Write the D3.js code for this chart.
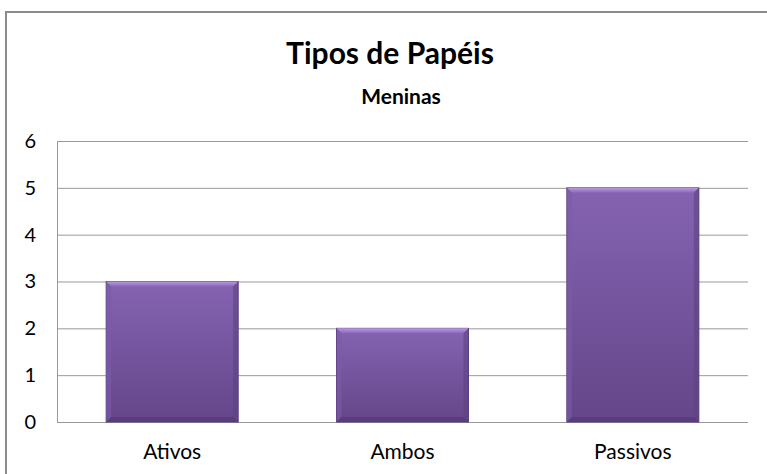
<!DOCTYPE html>
<html>
<head>
<meta charset="utf-8">
<title>Tipos de Papéis</title>
<script src="https://cdn.jsdelivr.net/npm/d3@7"></script>
<style>
  body { margin: 0; background: #fff; }
  text { font-family: Lato, "Open Sans", sans-serif; fill: #000; }
</style>
</head>
<body>
<svg width="767" height="474" id="mainsvg"></svg>
<script>
const categories = ['Ativos', 'Ambos', 'Passivos'];
const values = [3, 2, 5];
const yTicks = [0, 1, 2, 3, 4, 5, 6];

const svg = d3.select('#mainsvg');
const width = +svg.attr('width');
const height = +svg.attr('height');
const margin = {top: 141, right: 19, bottom: 52, left: 57};
const innerWidth = width - margin.left - margin.right;
const innerHeight = height - margin.top - margin.bottom;

// outer chart border
svg.append('rect')
  .attr('x', 6).attr('y', 12)
  .attr('width', width).attr('height', height)
  .attr('fill', 'none').attr('stroke', '#8c8c8c').attr('stroke-width', 2);

const defs = svg.append('defs');
const grad = defs.append('linearGradient').attr('id', 'barGrad')
  .attr('x1', 0).attr('y1', 0).attr('x2', 0).attr('y2', 1);
grad.append('stop').attr('offset', '0%').attr('stop-color', '#8563b2');
grad.append('stop').attr('offset', '100%').attr('stop-color', '#644689');
const topGrad = defs.append('linearGradient').attr('id', 'topGrad')
  .attr('x1', 0).attr('y1', 0).attr('x2', 0).attr('y2', 1);
topGrad.append('stop').attr('offset', '0%').attr('stop-color', '#b89ae0');
topGrad.append('stop').attr('offset', '100%').attr('stop-color', '#8a68b6');

const xScale = d3.scaleBand()
  .domain(categories)
  .range([0, innerWidth])
  .paddingInner(0.427)
  .paddingOuter(0.2135);

const yScale = d3.scaleLinear()
  .domain([0, 6])
  .range([innerHeight, 0]);

const g = svg.append('g')
  .attr('transform', `translate(${margin.left},${margin.top})`);

// gridlines
g.append('g').selectAll('line').data(yTicks).join('line')
  .attr('x1', 0).attr('x2', innerWidth)
  .attr('y1', d => yScale(d) + 0.5).attr('y2', d => yScale(d) + 0.5)
  .attr('stroke', '#999').attr('stroke-width', 1);

g.append('line')
  .attr('x1', 0.5).attr('x2', 0.5)
  .attr('y1', yScale(6)).attr('y2', yScale(0))
  .attr('stroke', '#999');

// y axis labels
const yAxis = d3.axisLeft(yScale).tickValues(yTicks).tickFormat(d3.format('d'))
  .tickSize(0).tickPadding(21);
const ya = g.append('g').call(yAxis);
ya.select('.domain').remove();
ya.selectAll('text').attr('font-size', 20).attr('font-family', 'Lato, sans-serif');

// x axis labels
const xAxis = d3.axisBottom(xScale).tickSize(0).tickPadding(22);
const xa = g.append('g').attr('transform', `translate(0,${innerHeight})`).call(xAxis);
xa.select('.domain').remove();
xa.selectAll('text').attr('font-size', 21).attr('font-family', 'Lato, sans-serif');

// bars
const bars = g.append('g').selectAll('g').data(categories).join('g');
const bev = 5;
bars.append('rect')
  .attr('x', d => xScale(d))
  .attr('y', (d, i) => yScale(values[i]))
  .attr('width', xScale.bandwidth())
  .attr('height', (d, i) => innerHeight - yScale(values[i]))
  .attr('fill', 'url(#barGrad)')
  .attr('stroke', '#5b3f7e').attr('stroke-width', 1);
// bevel: top highlight
bars.append('polygon')
  .attr('points', (d, i) => {
    const x0 = xScale(d), x1 = x0 + xScale.bandwidth(), y0 = yScale(values[i]);
    return `${x0},${y0} ${x1},${y0} ${x1 - bev},${y0 + bev} ${x0 + bev},${y0 + bev}`;
  })
  .attr('fill', 'url(#topGrad)');
// bevel: side shades
bars.append('polygon')
  .attr('points', (d, i) => {
    const x0 = xScale(d), y0 = yScale(values[i]);
    return `${x0},${y0} ${x0 + bev},${y0 + bev} ${x0 + bev},${innerHeight - bev} ${x0},${innerHeight}`;
  })
  .attr('fill', '#7c5ca8').attr('opacity', 0.6);
bars.append('polygon')
  .attr('points', (d, i) => {
    const x1 = xScale(d) + xScale.bandwidth(), y0 = yScale(values[i]);
    return `${x1},${y0} ${x1 - bev},${y0 + bev} ${x1 - bev},${innerHeight - bev} ${x1},${innerHeight}`;
  })
  .attr('fill', '#5e4282').attr('opacity', 0.6);
bars.append('polygon')
  .attr('points', d => {
    const x0 = xScale(d), x1 = x0 + xScale.bandwidth();
    return `${x0},${innerHeight} ${x0 + bev},${innerHeight - bev} ${x1 - bev},${innerHeight - bev} ${x1},${innerHeight}`;
  })
  .attr('fill', '#553a78').attr('opacity', 0.8);

// titles
svg.append('text').text('Tipos de Papéis')
  .attr('x', 390).attr('y', 64)
  .attr('text-anchor', 'middle')
  .attr('font-size', 30).attr('font-weight', 'bold');
svg.append('text').text('Meninas')
  .attr('x', 401).attr('y', 104)
  .attr('text-anchor', 'middle')
  .attr('font-size', 21).attr('font-weight', 'bold');
</script>
</body>
</html>
